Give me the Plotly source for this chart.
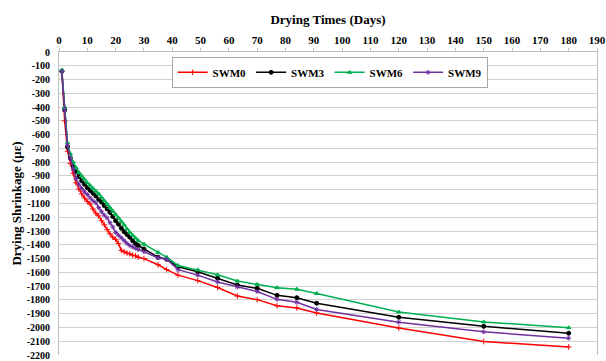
import plotly.graph_objects as go

days = list(range(1, 29)) + [30, 35, 38, 42, 49, 56, 63, 70, 77, 84, 91, 120, 150, 180]

swm0 = [-140, -500, -720, -810, -880, -950, -995, -1030, -1060, -1085, -1105, -1140, -1170, -1190,
        -1225, -1255, -1290, -1320, -1345, -1360, -1390, -1440, -1450, -1460, -1465, -1475, -1480, -1490,
        -1500, -1545, -1580, -1620, -1660, -1710, -1772, -1798, -1843, -1858, -1895, -2004, -2102, -2142]
swm3 = [-140, -420, -690, -770, -830, -870, -905, -935, -960, -985, -1005, -1025, -1045, -1070,
        -1090, -1115, -1140, -1165, -1195, -1225, -1250, -1280, -1305, -1325, -1345, -1370, -1390, -1405,
        -1430, -1490, -1505, -1560, -1595, -1642, -1692, -1716, -1767, -1784, -1824, -1926, -1992, -2042]
swm6 = [-130, -400, -660, -740, -800, -840, -875, -900, -925, -950, -970, -990, -1010, -1030,
        -1055, -1080, -1105, -1130, -1155, -1180, -1205, -1230, -1255, -1285, -1310, -1330, -1350, -1370,
        -1395, -1455, -1490, -1550, -1582, -1618, -1663, -1687, -1711, -1722, -1753, -1888, -1960, -2002]
swm9 = [-140, -420, -680, -770, -850, -920, -960, -990, -1015, -1035, -1060, -1080, -1095, -1130,
        -1160, -1185, -1205, -1240, -1270, -1310, -1330, -1350, -1370, -1390, -1405, -1415, -1425, -1435,
        -1450, -1495, -1505, -1580, -1620, -1670, -1706, -1739, -1796, -1817, -1869, -1962, -2032, -2078]

x_ticks = list(range(0, 191, 10))
y_ticks = list(range(0, -2301, -100))
y_tick_labels = [str(v) for v in y_ticks]

series = [
    ("SWM0", swm0, "#ff0000", "cross-thin-open"),
    ("SWM3", swm3, "#000000", "circle"),
    ("SWM6", swm6, "#00b050", "triangle-up"),
    ("SWM9", swm9, "#7030a0", "asterisk-open"),
]

font_family = "Liberation Serif, Times New Roman, serif"

fig = go.Figure()
for name, vals, color, sym in series:
    fig.add_trace(go.Scatter(
        x=days, y=vals, name=name, mode="lines+markers",
        line=dict(color=color, width=1.5),
        marker=dict(symbol=sym, size=4, color=color, line=dict(color=color, width=1)),
    ))

fig.update_layout(
    width=606, height=361,
    margin=dict(l=59, r=8, t=52, b=0),
    paper_bgcolor="white", plot_bgcolor="white",
    font=dict(family=font_family, color="black", size=10),
    showlegend=True,
    legend=dict(
        orientation="h", x=0.503, y=0.984, xanchor="center", yanchor="top",
        bordercolor="#a6a6a6", borderwidth=1, bgcolor="white",
        font=dict(family=font_family, size=11, color="black", weight="bold"),
        itemwidth=30, tracegroupgap=0,
    ),
)

fig.update_xaxes(
    side="top", range=[0, 190], tickvals=x_ticks,
    showgrid=False, zeroline=False,
    showline=True, linecolor="#bfbfbf", linewidth=1,
    ticks="outside", ticklen=3, tickcolor="#bfbfbf",
    ticklabeloverflow="allow",
    tickfont=dict(family=font_family, size=11, weight="bold"),
    title=dict(text="Drying Times (Days)", font=dict(family=font_family, size=13, weight="bold"), standoff=6),
)
fig.update_yaxes(
    range=[-2200, 0], tickvals=y_ticks, ticktext=y_tick_labels,
    showgrid=True, gridcolor="#d0d0d0", gridwidth=1, zeroline=False,
    showline=True, linecolor="#bfbfbf", linewidth=1, mirror=True,
    ticks="", ticklabelstandoff=6, ticklabeloverflow="allow",
    tickfont=dict(family=font_family, size=10, weight="bold"),
    title=dict(text="Drying Shrinkage (με)", font=dict(family=font_family, size=13, weight="bold"), standoff=2),
)

fig.write_html("out.html")
